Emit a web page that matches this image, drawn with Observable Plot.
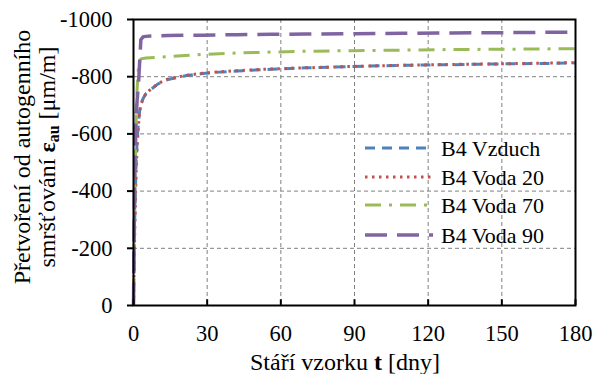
<!DOCTYPE html>
<html><head><meta charset="utf-8">
<script src="https://cdn.jsdelivr.net/npm/d3@7"></script>
<script src="https://cdn.jsdelivr.net/npm/@observablehq/plot@0.6"></script>
<style>body{margin:0;background:#fff} svg text{font-family:"Liberation Serif", serif;}</style>
</head><body>
<div id="chart"></div>
<script>
const days   = [0,0.5,1,1.5,2,2.5,3,4,5,7,10,14,21,28,35,42,56,70,90,110,130,150,165,180];
const vzduch = [0,-300,-480,-580,-640,-680,-705,-725,-740,-755,-775,-790,-803,-811,-816,-820,-826,-831,-836,-840,-842,-845,-846,-848];
const voda20 = [0,-260,-450,-560,-630,-675,-703,-724,-740,-756,-776,-792,-804,-812,-817,-821,-827,-831,-836,-840,-843,-845,-847,-849];
const voda70 = [0,-380,-620,-760,-830,-855,-862,-864,-865,-866,-868,-870,-874,-878,-880,-883,-886,-889,-891,-893,-895,-896,-897,-898];
const voda90 = [0,-450,-650,-720,-770,-850,-930,-940,-941,-942,-943,-944,-945,-945,-946,-947,-948,-949,-950,-952,-953,-954,-955,-956];
const seriesNames = ["B4 Vzduch","B4 Voda 20","B4 Voda 70","B4 Voda 90"];
const seriesValues = [vzduch, voda20, voda70, voda90];
const colors = ["#4F81BD","#C0504D","#9BBB59","#8064A2"];
const dashes = ["10,7","2.5,4.5","16,8,3,8","22,10"];
const widths = [3,3,3,3.5];
const xTicks = [0,30,60,90,120,150,180];
const yTicks = [0,-200,-400,-600,-800,-1000];

const lineMarks = seriesValues.map((vals,i) =>
  Plot.line(days.map((d,j)=>({t:d,v:vals[j]})), {x:"t", y:"v", stroke:colors[i], strokeWidth:widths[i], strokeDasharray:dashes[i], strokeLinecap:"butt"}));

const chart = Plot.plot({
  width:593, height:374,
  marginLeft:133, marginRight:18, marginTop:19, marginBottom:69,
  style:{fontFamily:"'Liberation Serif', serif", fontSize:"22.5px", color:"black", background:"white"},
  x:{domain:[0,180]},
  y:{domain:[0,-1000]},
  marks:[
    Plot.gridX(xTicks,{stroke:"#808080", strokeOpacity:1, strokeDasharray:"4,3"}),
    Plot.gridY(yTicks,{stroke:"#808080", strokeOpacity:1, strokeDasharray:"4,3"}),
    ...lineMarks,
    Plot.ruleX(xTicks,{x:d=>d, y1:0, y2:-20, stroke:"black", strokeWidth:2}),
    Plot.frame({stroke:"black", strokeWidth:2}),
    Plot.axisX(xTicks,{tickSize:0, tickPadding:20, label:null, tickFormat:d=>String(d)}),
    Plot.axisY(yTicks,{tickSize:6, tickPadding:15, label:null, tickFormat:d=>String(d), strokeWidth:2})
  ]
});
document.getElementById("chart").appendChild(chart);

const svg = d3.select(chart);
// y label
const yl = svg.append("g").attr("font-size",24).attr("fill","black").attr("text-anchor","middle");
yl.append("text").attr("transform","translate(30,157) rotate(-90)").text("Přetvoření od autogenního");
const t2 = yl.append("text").attr("transform","translate(55,157) rotate(-90)");
t2.append("tspan").text("smršťování ");
t2.append("tspan").attr("font-weight","bold").text("ε");
t2.append("tspan").attr("font-weight","bold").attr("font-size",16).attr("dy",4).text("au");
t2.append("tspan").attr("dy",-4).text(" [μm/m]");
// x label
const xl = svg.append("text").attr("x",345).attr("y",370).attr("text-anchor","middle")
  .attr("font-size",24).attr("fill","black");
xl.append("tspan").text("Stáří vzorku ");
xl.append("tspan").attr("font-weight","bold").text("t");
xl.append("tspan").text(" [dny]");
// legend
const lg = svg.append("g").attr("font-size",22).attr("fill","black").attr("text-anchor","start");
const rowsY = [148,177,205,235];
seriesNames.forEach((n,i)=>{
  lg.append("line").attr("x1",365).attr("x2",433).attr("y1",rowsY[i]).attr("y2",rowsY[i])
    .attr("stroke",colors[i]).attr("stroke-width",widths[i]).attr("stroke-dasharray",dashes[i]);
  lg.append("text").attr("x",441).attr("y",rowsY[i]).attr("dy","0.35em").text(n);
});
</script>
</body></html>
